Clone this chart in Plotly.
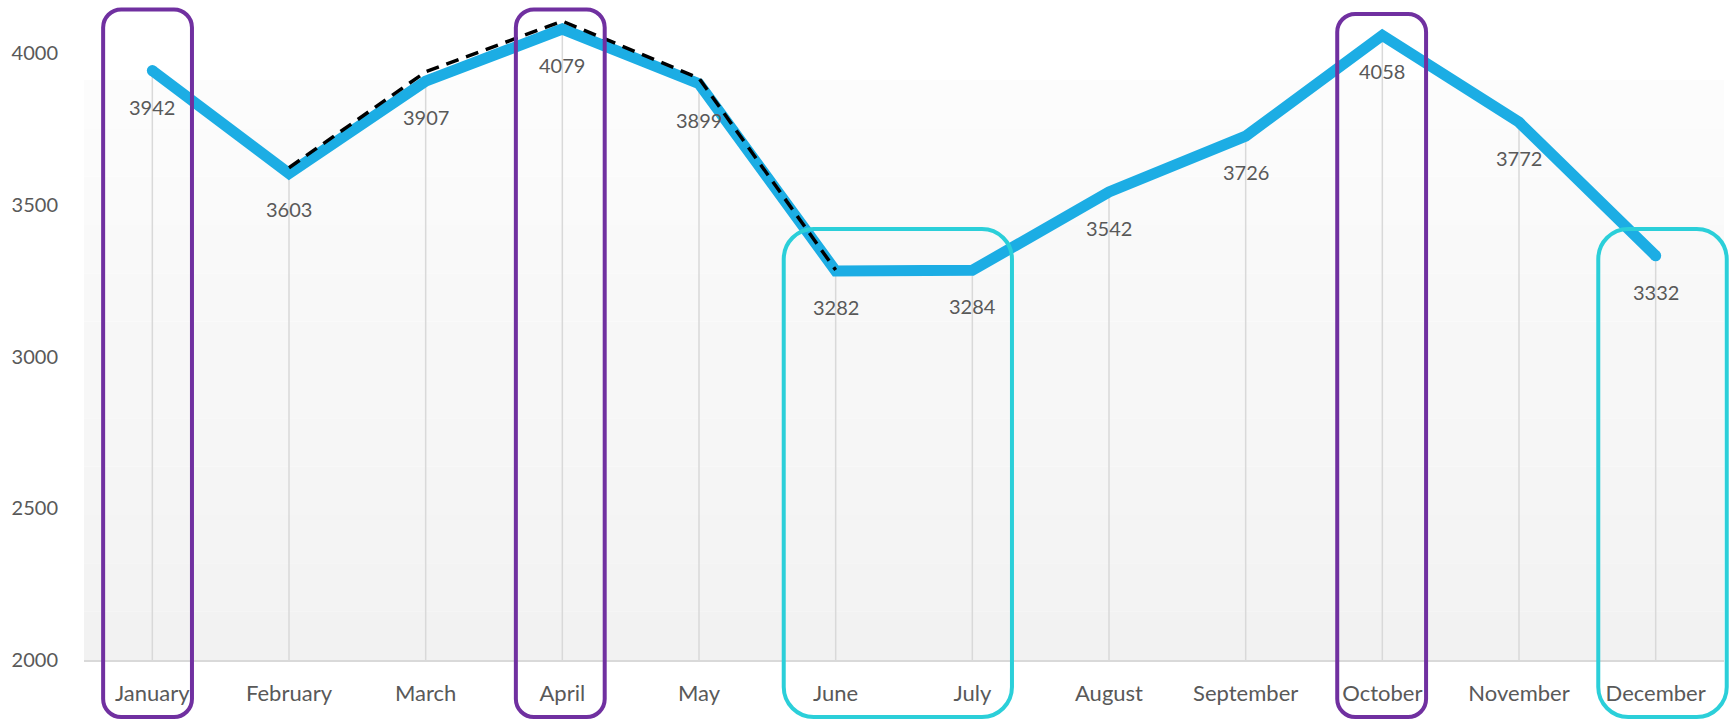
import plotly.graph_objects as go

# ---- data -------------------------------------------------------------
months = ["January", "February", "March", "April", "May", "June",
          "July", "August", "September", "October", "November", "December"]
sales = [3942, 3603, 3907, 4079, 3899, 3282, 3284, 3542, 3726, 4058, 3772, 3332]

# dashed comparison series, February to June
overlay_months = ["February", "March", "April", "May", "June"]
overlay_values = [3622, 3938, 4105, 3917, 3285]

y_ticks = [2000, 2500, 3000, 3500, 4000]

# highlighted months: (first, last, colour)
highlights = [
    ("January", "January", "purple"),
    ("April", "April", "purple"),
    ("October", "October", "purple"),
    ("June", "July", "teal"),
    ("December", "December", "teal"),
]

# ---- layout geometry / styles -----------------------------------------
W, H = 1735, 721
L, R, T, B = 84, 11, 5, 61
PW, PH = W - L - R, H - T - B
Y_MIN = 2000
PX_PER_UNIT = 607 / 2000
Y_MAX = Y_MIN + PH / PX_PER_UNIT

BLUE = "#1CADE4"
TEXT = "#595959"
GRID = "#D9D9D9"
FONT = "Lato"
BOX_COLORS = {"purple": "#7030A0", "teal": "#2BCFD9"}

# box extents (category units / pixel offsets) per highlight
box_style = {
    "January": dict(pad_l=0.36, pad_r=0.29, top_px=9.5, radius=18),
    "April": dict(pad_l=0.34, pad_r=0.31, top_px=9.5, radius=18),
    "October": dict(pad_l=0.33, pad_r=0.32, top_px=14, radius=18),
    "June": dict(pad_l=0.38, pad_r=0.29, top_px=229, radius=30),
    "December": dict(pad_l=0.42, pad_r=0.52, top_px=229, radius=30),
}
BOX_BOTTOM_PX = 717

idx = {m: i for i, m in enumerate(months)}


def xp(v):
    return (v + 0.5) / len(months)


def yp_from_px(py):
    return (T + PH - py) / PH


def rounded_rect(x0, y0, x1, y1, r_px):
    rx, ry = r_px / PW, r_px / PH
    k = 0.5523
    return (
        f"M {x0 + rx},{y1} L {x1 - rx},{y1} "
        f"C {x1 - rx + k * rx},{y1} {x1},{y1 - ry + k * ry} {x1},{y1 - ry} "
        f"L {x1},{y0 + ry} "
        f"C {x1},{y0 + ry - k * ry} {x1 - rx + k * rx},{y0} {x1 - rx},{y0} "
        f"L {x0 + rx},{y0} "
        f"C {x0 + rx - k * rx},{y0} {x0},{y0 + ry - k * ry} {x0},{y0 + ry} "
        f"L {x0},{y1 - ry} "
        f"C {x0},{y1 - ry + k * ry} {x0 + rx - k * rx},{y1} {x0 + rx},{y1} Z"
    )


fig = go.Figure()

# drop lines from each point to the axis
drop_x, drop_y = [], []
for i, v in enumerate(sales):
    drop_x += [i, i, None]
    drop_y += [Y_MIN, v, None]
fig.add_trace(go.Scatter(x=drop_x, y=drop_y, mode="lines",
                         line=dict(color=GRID, width=1.5),
                         hoverinfo="skip", showlegend=False))

# main series
end_sizes = [11] + [0] * (len(sales) - 2) + [11]
fig.add_trace(go.Scatter(
    x=list(range(len(months))), y=sales, mode="lines+markers",
    line=dict(color=BLUE, width=11),
    marker=dict(size=end_sizes, color=BLUE, opacity=1, line=dict(width=0)),
    showlegend=False, cliponaxis=False))

# dashed comparison series
fig.add_trace(go.Scatter(
    x=[idx[m] for m in overlay_months], y=overlay_values, mode="lines",
    line=dict(color="black", width=3.5, dash="13px,8px"),
    showlegend=False, cliponaxis=False))

# value labels below each point
for i, v in enumerate(sales):
    fig.add_annotation(x=i, y=v, text=str(v), showarrow=False,
                       yshift=-36, font=dict(family=FONT, size=20, color=TEXT))

shapes = []
# plot-area background: soft vertical gradient
grad_top = yp_from_px(80)
n_bands = 12
for b in range(n_bands):
    g = round(242 + (252 - 242) * b / (n_bands - 1))
    shapes.append(dict(type="rect", xref="paper", yref="paper",
                       x0=0, x1=1, y0=grad_top * b / n_bands,
                       y1=grad_top * (b + 1) / n_bands,
                       fillcolor=f"rgb({g},{g},{g})", line=dict(width=0),
                       layer="below"))

# rounded highlight boxes
for first, last, col in highlights:
    st = box_style[first]
    x0 = xp(idx[first] - st["pad_l"])
    x1 = xp(idx[last] + st["pad_r"])
    y1 = yp_from_px(st["top_px"])
    y0 = yp_from_px(BOX_BOTTOM_PX)
    shapes.append(dict(type="path", xref="paper", yref="paper",
                       path=rounded_rect(x0, y0, x1, y1, st["radius"]),
                       line=dict(color=BOX_COLORS[col], width=4),
                       fillcolor="rgba(0,0,0,0)", layer="above"))

fig.update_layout(
    width=W, height=H,
    margin=dict(l=L, r=R, t=T, b=B, autoexpand=False),
    paper_bgcolor="white", plot_bgcolor="white",
    shapes=shapes,
    showlegend=False,
    xaxis=dict(range=[-0.5, len(months) - 0.5], tickvals=list(range(len(months))),
               ticktext=months, showgrid=False, zeroline=False,
               showline=True, linecolor=GRID, linewidth=2, ticks="",
               tickfont=dict(family=FONT, size=22, color=TEXT),
               ticklabelstandoff=13, fixedrange=True),
    yaxis=dict(range=[Y_MIN, Y_MAX], tickvals=y_ticks,
               ticktext=[str(t) for t in y_ticks],
               showgrid=False, zeroline=False, showline=False, ticks="",
               tickfont=dict(family=FONT, size=20, color=TEXT),
               ticklabelstandoff=25, fixedrange=True),
)

fig.write_html("out.html")
